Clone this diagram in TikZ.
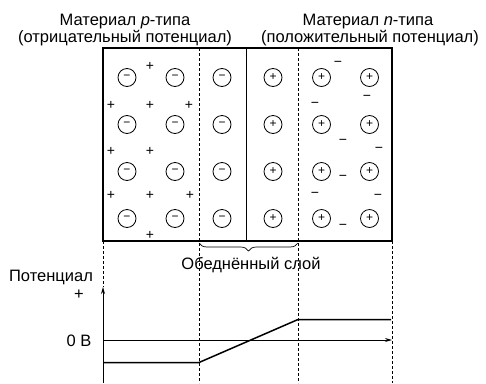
\documentclass[tikz,border=0pt]{standalone}
\usepackage{fontspec}
\setmainfont{Liberation Sans}
\usetikzlibrary{arrows.meta,decorations.pathreplacing}
\begin{document}
\begin{tikzpicture}[x=1pt,y=-1pt,
  ion/.style={circle,draw,line width=0.8pt,minimum size=18pt,inner sep=0pt,font=\fontsize{12}{12}\selectfont},
  carrier/.style={inner sep=0pt,font=\fontsize{14}{14}\selectfont},
  lbl/.style={inner sep=0pt,font=\fontsize{16.5}{17}\selectfont},
  guide/.style={line width=0.7pt,dash pattern=on 3pt off 2pt},
  frame/.style={line width=1.6pt},
  axis/.style={line width=0.9pt,-{Stealth[length=7pt,width=4pt]}},
  pot/.style={line width=1.5pt},
  bracestyle/.style={line width=0.7pt,decorate,decoration={brace,amplitude=8pt,mirror}}]
\useasboundingbox (0,0) rectangle (486,383);
% frame corners
\coordinate (TL) at (103,48);
\coordinate (BR) at (392,241);
\coordinate (BL) at (103,241);
\coordinate (MT) at (246.5,48);
\coordinate (MB) at (246.5,241);
\coordinate (D1T) at (199,48);
\coordinate (D1B) at (199,383);
\coordinate (D2T) at (298,48);
\coordinate (D2B) at (298,383);
\coordinate (D3B) at (392,383);
\coordinate (AxT) at (103,287);
\coordinate (AxB) at (103,383);
\coordinate (H0) at (103,340);
\coordinate (H1) at (392,340);
\coordinate (P0) at (103,362.5);
\coordinate (P1) at (199,362.5);
\coordinate (P2) at (298,319.5);
\coordinate (P3) at (391,319.5);
\coordinate (BrA) at (199,243);
\coordinate (BrB) at (298,243);
% guides
\draw[guide] (D1T) -- (D1B);
\draw[guide] (D2T) -- (D2B);
\draw[guide] (BR) -- (D3B);
\draw[guide] (BL) -- (AxT);
% frame
\draw[frame] (TL) rectangle (BR);
\draw[frame] (MT) -- (MB);
% titles
\node[lbl,anchor=base] (tp1) at (125,25.5) {Материал \textit{p}-типа};
\node[lbl,anchor=base] (tp2) at (125,42) {(отрицательный потенциал)};
\node[lbl,anchor=base] (tn1) at (368,25.5) {Материал \textit{n}-типа};
\node[lbl,anchor=base] (tn2) at (370,42) {(положительный потенциал)};
% ions
\foreach \r/\y in {1/77.5,2/124.5,3/171.5,4/218.5}{
  \foreach \c/\x in {1/127,2/175,3/222}{
    \node[ion] (a\r\c) at (\x,\y) {−};
  }
  \foreach \c/\x in {1/273,2/321.5,3/369.5}{
    \node[ion] (d\r\c) at (\x,\y) {+};
  }
}
% holes
\foreach \n/\x/\y in {1/150/66.5,2/111/105,3/150/105,4/189/105,5/111/151,6/150/151,7/111/195,8/150/195,9/190/195,10/150/235}{
  \node[carrier] (h\n) at (\x,\y) {+};
}
% electrons
\foreach \n/\x/\y in {1/338/64,2/367/98,3/315/105,4/343/142,5/379/150,6/343/178,7/315/195,8/378/197,9/343/227}{
  \node[carrier] (e\n) at (\x,\y) {−};
}
% brace
\draw[bracestyle] (BrA) -- (BrB);
\node[lbl] (dep) at (251,265) {Обеднённый слой};
% potential graph
\draw[axis] (AxB) -- (AxT);
\draw[axis] (H0) -- (H1);
\draw[pot] (P0) -- (P1) -- (P2) -- (P3);
\node[lbl] (potl) at (51,277.5) {Потенциал};
\node[lbl] (plus) at (79,295) {+};
\node[lbl] (zero) at (79,340.5) {0 В};
\end{tikzpicture}
\end{document}
